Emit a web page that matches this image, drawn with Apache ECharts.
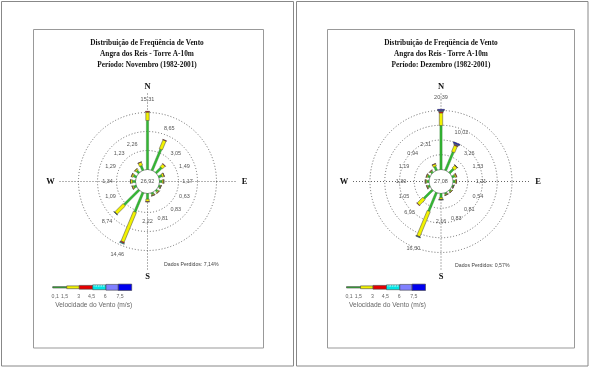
<!DOCTYPE html>
<html><head><meta charset="utf-8">
<script src="https://cdn.jsdelivr.net/npm/echarts@6/dist/echarts.min.js"></script>
<style>html,body{margin:0;padding:0;background:#fff}#c{width:590px;height:369px}</style>
</head><body><div id="c"></div>
<script>
// ---- data ----
const directions = ['N','NNE','NE','ENE','E','ESE','SE','SSE','S','SSW','SW','WSW','W','WNW','NW','NNW'];
const dirAngles = [0,22.5,45,67.5,90,112.5,135,157.5,180,202.5,225,247.5,270,292.5,315,337.5];
const speedClassLabels = ['0,1','1,5','3','4,5','6','7,5'];
const cardinalLabels = ['N','E','S','W'];
const cardinalAngles = [0,90,180,270];

// Novembro (1982-2001) — frequência (%) por direção
const novTotals = [15.31,8.65,3.05,1.49,1.17,0.63,0.83,0.81,2.22,14.46,8.74,1.09,1.34,1.29,1.23,2.26];
const novC1 = [12.9,6.0,2.0,0.9,0.7,0.4,0.5,0.5,1.5,5.5,5.5,0.7,0.8,0.8,0.8,1.3];
const novC2 = [2.2,2.55,0.95,0.53,0.42,0.2,0.3,0.28,0.65,8.5,3.1,0.35,0.5,0.45,0.4,0.9];
const novC3 = [0.21,0.1,0.1,0.06,0.05,0.03,0.03,0.03,0.07,0.3,0.08,0.04,0.04,0.04,0.03,0.06];
const novC4 = [0,0,0,0,0,0,0,0,0,0.16,0.06,0,0,0,0,0];
const novC5 = [0,0,0,0,0,0,0,0,0,0,0,0,0,0,0,0];
const novC6 = [0,0,0,0,0,0,0,0,0,0,0,0,0,0,0,0];
const novCalm = 26.92;
const novLost = 7.14;

// Dezembro (1982-2001)
const decTotals = [20.39,10.02,3.26,1.53,1.21,0.54,0.81,0.83,2.16,16.30,6.93,1.05,1.30,1.19,0.94,2.31];
const decC1 = [14.9,6.7,1.9,0.9,0.7,0.35,0.5,0.5,1.4,6.8,4.1,0.65,0.8,0.75,0.6,1.4];
const decC2 = [4.3,2.3,1.2,0.5,0.4,0.17,0.28,0.3,0.6,9.2,2.7,0.35,0.45,0.4,0.3,0.8];
const decC3 = [0.5,0.3,0.1,0.13,0.11,0.02,0.03,0.03,0.1,0.15,0.13,0.05,0.05,0.04,0.04,0.11];
const decC4 = [0.2,0.2,0.06,0,0,0,0,0,0.06,0.15,0,0,0,0,0,0];
const decC5 = [0.2,0.2,0,0,0,0,0,0,0,0,0,0,0,0,0,0];
const decC6 = [0.29,0.32,0,0,0,0,0,0,0,0,0,0,0,0,0,0];
const decCalm = 27.08;
const decLost = 0.57;

// ---- style ----
const classColors = ['#33b833','#f2f200','#e60000','#00e6e6','#8080ff','#0000ee'];
const classWidths = [2.2,3.4,4.2,5,6,7];
const fmt = v => v.toFixed(2).replace('.', ',');

function rows(totals, cls) {
  return totals.map((t,i) => [t, dirAngles[i], cls[0][i], cls[1][i], cls[2][i], cls[3][i], cls[4][i], cls[5][i]]);
}

function seg(p0, p1, w, fill, stroke, lw) {
  const dx = p1[0]-p0[0], dy = p1[1]-p0[1];
  const L = Math.hypot(dx, dy) || 1;
  const nx = -dy/L*w/2, ny = dx/L*w/2;
  return {type:'polygon', shape:{points:[[p0[0]+nx,p0[1]+ny],[p1[0]+nx,p1[1]+ny],[p1[0]-nx,p1[1]-ny],[p0[0]-nx,p0[1]-ny]]},
    style:{fill:fill, stroke:stroke, lineWidth:lw}};
}

function barRender(params, api) {
  const cs = params.coordSys;
  const cx = cs.cx, cy = cs.cy;
  const ang = api.value(1), total = api.value(0);
  const children = [];
  let acc = 0;
  for (let k = 0; k < 6; k++) {
    const v = api.value(2+k);
    if (!v) continue;
    const p0 = api.coord([acc, ang]);
    acc += v;
    const p1 = api.coord([acc, ang]);
    children.push(seg(p0, p1, classWidths[k], classColors[k], k === 0 ? '#2a7f2a' : '#444', k === 0 ? 0.4 : 0.5));
  }
  const pe = api.coord([total, ang]);
  const dx = pe[0]-cx, dy = pe[1]-cy;
  const re = Math.hypot(dx, dy);
  const lr = Math.max(40, re + 12);
  children.push({type:'text', x: cx + dx/re*lr, y: cy + dy/re*lr,
    style:{text: fmt(total), align:'center', verticalAlign:'middle', font:'5.5px "Liberation Sans"', fill:'#555'}});
  return {type:'group', children};
}

function axesRender(calm) {
  return function(params, api) {
    const cs = params.coordSys;
    const cx = cs.cx, cy = cs.cy;
    const ang = api.value(1);
    const p = api.coord([0, ang]);
    const dx = p[0]-cx, dy = p[1]-cy, r0 = Math.hypot(dx, dy);
    const ux = dx/r0, uy = dy/r0;
    const children = [
      {type:'line', shape:{x1:p[0], y1:p[1], x2:cx+ux*90, y2:cy+uy*90},
       style:{stroke:'#555', lineWidth:0.9, lineDash:[1,2]}},
      {type:'text', x: cx+ux*(Math.abs(uy) < 0.1 ? 97 : 95), y: cy+uy*95,
       style:{text: cardinalLabels[params.dataIndex], align:'center', verticalAlign:'middle',
              font:'bold 8.5px "Liberation Serif"', fill:'#111'}}
    ];
    if (params.dataIndex === 0) {
      children.push({type:'circle', shape:{cx, cy, r:r0}, style:{fill:'#fff', stroke:'#888', lineWidth:0.8}});
      children.push({type:'text', x:cx, y:cy, style:{text: fmt(calm), align:'center', verticalAlign:'middle',
        font:'5.5px "Liberation Sans"', fill:'#555'}});
    }
    return {type:'group', children};
  };
}

function radiusAxis(idx, max) {
  return {polarIndex: idx, type:'value', min:0, max:max, interval:5,
    axisLine:{show:false}, axisTick:{show:false}, axisLabel:{show:false},
    splitLine:{show:true, lineStyle:{color:'#5a5a5a', width:0.9, type:[1,2]}}};
}
function angleAxis(idx) {
  return {polarIndex: idx, type:'value', min:0, max:360, startAngle:90, clockwise:true,
    axisLine:{show:false}, axisTick:{show:false}, axisLabel:{show:false}, splitLine:{show:false}};
}

// ---- static page decorations (frames, titles, legend) ----
const graphics = [];
function rect(x,y,w,h,stroke){ graphics.push({type:'rect', shape:{x,y,width:w,height:h}, style:{fill:'none', stroke, lineWidth:1}, silent:true}); }
rect(1.5,1.5,292,364.5,'#888');
rect(296.5,1.5,291.5,364.5,'#888');
rect(33.5,29.5,230,318.5,'#999');
rect(327.5,29.5,247,318.5,'#999');

function titles(cx, period) {
  const lines = ['Distribuição de Freqüência de Vento','Angra dos Reis - Torre A-10m', period];
  const ys = [43.5, 54.5, 65.5];
  lines.forEach((t,i) => graphics.push({type:'text', x:cx, y:ys[i], silent:true,
    style:{text:t, align:'center', verticalAlign:'middle', font:'bold 7.3px "Liberation Serif"', fill:'#111'}}));
}
titles(147, 'Período: Novembro (1982-2001)');
titles(441, 'Período: Dezembro (1982-2001)');

function lost(x, y, v) {
  graphics.push({type:'text', x, y, silent:true, style:{text:'Dados Perdidos: ' + fmt(v) + '%', align:'left', verticalAlign:'middle',
    font:'5.2px "Liberation Sans"', fill:'#444'}});
}
lost(164, 264.5, novLost);
lost(455, 266, decLost);

const legendX = [0,14,26.6,40,53.3,65.6,79];
const legendH = [1.4,2.8,3.8,4.8,5.8,6.4];
const legendLabelX = [2.5,11.8,26,38.8,52.6,67.3];
function legend(x0) {
  for (let k = 0; k < 6; k++) {
    graphics.push({type:'rect', silent:true, shape:{x:x0+legendX[k], y:287.3-legendH[k]/2, width:legendX[k+1]-legendX[k], height:legendH[k]},
      style:{fill:classColors[k], stroke:'#444', lineWidth:0.6}});
    graphics.push({type:'text', silent:true, x:x0+legendLabelX[k], y:296.5,
      style:{text:speedClassLabels[k], align:'center', verticalAlign:'middle', font:'5.2px "Liberation Sans"', fill:'#666'}});
  }
  graphics.push({type:'rect', silent:true, shape:{x:x0+legendX[3]+1, y:287.3-legendH[3]/2+1, width:legendX[4]-legendX[3]-2, height:0.1},
    style:{fill:'none', stroke:'#fff', lineWidth:0.8, lineDash:[1,1.5]}});
  graphics.push({type:'text', silent:true, x:x0+41, y:305,
    style:{text:'Velocidade do Vento (m/s)', align:'center', verticalAlign:'middle', font:'6.6px "Liberation Sans"', fill:'#666'}});
}
legend(52.7);
legend(346.5);

const chart = echarts.init(document.getElementById('c'), null, {renderer:'canvas'});
chart.setOption({
  animation:false,
  backgroundColor:'#fff',
  polar:[{center:[147.5,181.5], radius:[12,69]}, {center:[441,181.5], radius:[12,71]}],
  angleAxis:[angleAxis(0), angleAxis(1)],
  radiusAxis:[radiusAxis(0,15), radiusAxis(1,20)],
  graphic: graphics,
  series:[
    {type:'custom', coordinateSystem:'polar', polarIndex:0, z:1, silent:true,
     data: cardinalAngles.map(a => [0, a]), encode:{radius:0, angle:1}, renderItem: axesRender(novCalm)},
    {type:'custom', coordinateSystem:'polar', polarIndex:0, z:2, silent:true, name:'Novembro',
     data: rows(novTotals, [novC1,novC2,novC3,novC4,novC5,novC6]), encode:{radius:0, angle:1}, renderItem: barRender},
    {type:'custom', coordinateSystem:'polar', polarIndex:1, z:1, silent:true,
     data: cardinalAngles.map(a => [0, a]), encode:{radius:0, angle:1}, renderItem: axesRender(decCalm)},
    {type:'custom', coordinateSystem:'polar', polarIndex:1, z:2, silent:true, name:'Dezembro',
     data: rows(decTotals, [decC1,decC2,decC3,decC4,decC5,decC6]), encode:{radius:0, angle:1}, renderItem: barRender}
  ]
});
</script></body></html>
